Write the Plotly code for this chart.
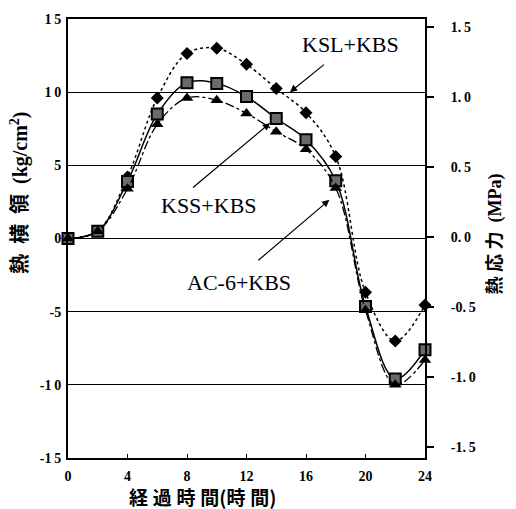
import plotly.graph_objects as go

hours = [0, 2, 4, 6, 8, 10, 12, 14, 16, 18, 20, 22, 24]
ksl_kbs = [0, 0.5, 4.2, 9.6, 12.65, 13.0, 11.9, 10.25, 8.6, 5.6, -3.67, -7.0, -4.55]
kss_kbs = [0, 0.5, 3.9, 8.5, 10.65, 10.6, 9.7, 8.2, 6.75, 3.95, -4.65, -9.6, -7.6]
ac6_kbs = [0, 0.5, 3.4, 7.8, 9.6, 9.45, 8.55, 7.3, 6.1, 3.45, -4.9, -10.0, -8.3]

TS = "\u2009"   # thin space for digit spacing
SP = "\u2005"   # four-per-em space for CJK spacing
EN = "\u2002"   # en space
x_ticks = [0, 4, 8, 12, 16, 20, 24]
y_ticks = [15, 10, 5, 0, -5, -10, -15]
y_ticklabels = ["1" + TS + "5", "1" + TS + "0", "5", "0", "-5", "-1" + TS + "0", "-1" + TS + "5"]
mpa_ticks = [1.5, 1.0, 0.5, 0.0, -0.5, -1.0, -1.5]
mpa_ticklabels = ["1." + TS + "5", "1." + TS + "0", "0." + TS + "5", "0." + TS + "0",
                  "-0." + TS + "5", "-1." + TS + "0", "-1." + TS + "5"]

serif = "Liberation Serif"
cjk = "Noto Sans CJK JP"

fig = go.Figure()
fig.add_trace(go.Scatter(
    x=hours, y=ksl_kbs, mode="lines+markers", name="KSL+KBS",
    line=dict(color="black", width=1.5, dash="dot", shape="spline", smoothing=1.0),
    marker=dict(symbol="diamond", size=10, color="black"),
    cliponaxis=False))
fig.add_trace(go.Scatter(
    x=hours, y=kss_kbs, mode="lines+markers", name="KSS+KBS",
    line=dict(color="black", width=1.5, shape="spline", smoothing=1.0),
    marker=dict(symbol="square", size=11, color="#6a6a6a", line=dict(color="black", width=2)),
    cliponaxis=False))
fig.add_trace(go.Scatter(
    x=hours, y=ac6_kbs, mode="lines+markers", name="AC-6+KBS",
    line=dict(color="black", width=1.3, dash="dashdot", shape="spline", smoothing=1.0),
    marker=dict(symbol="triangle-up", size=11, color="black"),
    cliponaxis=False))
# invisible trace for secondary axis
fig.add_trace(go.Scatter(x=[0], y=[0], yaxis="y2", mode="markers",
                         marker=dict(opacity=0), showlegend=False, hoverinfo="skip"))

fig.update_layout(
    width=516, height=509,
    margin=dict(l=68, r=91, t=14, b=51),
    paper_bgcolor="white", plot_bgcolor="white",
    showlegend=False,
    font=dict(family=serif, color="black"),
    xaxis=dict(range=[0, 24], tickvals=x_ticks, ticktext=["<b>%d</b>" % v for v in x_ticks],
               ticks="inside", ticklen=4,
               tickcolor="black", showline=True, linecolor="black", linewidth=2,
               mirror=True, showgrid=False, zeroline=False,
               tickfont=dict(family=serif, size=14, color="black"),
               ticklabelstandoff=4),
    yaxis=dict(range=[-15, 15], tickvals=y_ticks, ticktext=["<b>%s</b>" % t for t in y_ticklabels],
               ticks="", showline=True, linecolor="black", linewidth=2,
               showgrid=True, gridcolor="black", gridwidth=1.2,
               zeroline=True, zerolinecolor="black", zerolinewidth=1.2,
               tickfont=dict(family=serif, size=14, color="black"),
               ticklabelstandoff=2),
    yaxis2=dict(range=[-1.578, 1.556], overlaying="y", side="right",
                tickvals=mpa_ticks, ticktext=["<b>%s</b>" % t for t in mpa_ticklabels],
                ticks="outside", ticklen=7, tickcolor="black", tickwidth=1.5,
                showline=True, linecolor="black", linewidth=2,
                showgrid=False, zeroline=False,
                tickfont=dict(family=serif, size=14, color="black"),
                ticklabelstandoff=14),
)

# series labels
labels = [
    ("KSL+KBS", 18.96, 13.27),
    ("KSS+KBS", 9.48, 2.23),
    ("AC-6+KBS", 11.5, -3.04),
]
for txt, lx, ly in labels:
    fig.add_annotation(x=lx, y=ly, xref="x", yref="y", text=txt, showarrow=False,
                       font=dict(family=serif, size=22, color="black"))

arrows = [
    (14.92, 10.0, 37, -30),
    (13.58, 7.89, -80, 67),
    (17.57, 2.64, -74, 63),
]
for hx, hy, ax, ay in arrows:
    fig.add_annotation(x=hx, y=hy, xref="x", yref="y", ax=ax, ay=ay, text=" ",
                       showarrow=True, arrowhead=2, arrowsize=1.2, arrowwidth=1.2,
                       arrowcolor="black", standoff=0)

# axis titles
fig.add_annotation(
    xref="paper", yref="paper", x=(202 - 68) / 357, y=(509 - 51 - 497) / 444,
    text="<b>経" + SP + "過" + SP + "時" + SP + "間(時" + SP + "間)</b>", showarrow=False,
    xanchor="center", yanchor="middle",
    font=dict(family=cjk, size=19, color="black"))
fig.add_annotation(
    xref="paper", yref="paper", x=(18 - 68) / 357, y=(458 - 190) / 444,
    text="<b>熱" + EN + "横" + EN + "領" + EN
         + "<span style='font-family:Liberation Serif'>(kg/cm<sup>2</sup>)</span></b>",
    textangle=-90, showarrow=False, xanchor="center", yanchor="middle",
    font=dict(family=cjk, size=20, color="black"))
fig.add_annotation(
    xref="paper", yref="paper", x=(493 - 68) / 357, y=(458 - 232) / 444,
    text="<b>熱" + SP + "応" + SP + "力" + SP + SP
         + "<span style='font-family:Liberation Serif'>(MPa)</span></b>",
    textangle=-90, showarrow=False, xanchor="center", yanchor="middle",
    font=dict(family=cjk, size=18, color="black"))

fig.write_html("out.html")
